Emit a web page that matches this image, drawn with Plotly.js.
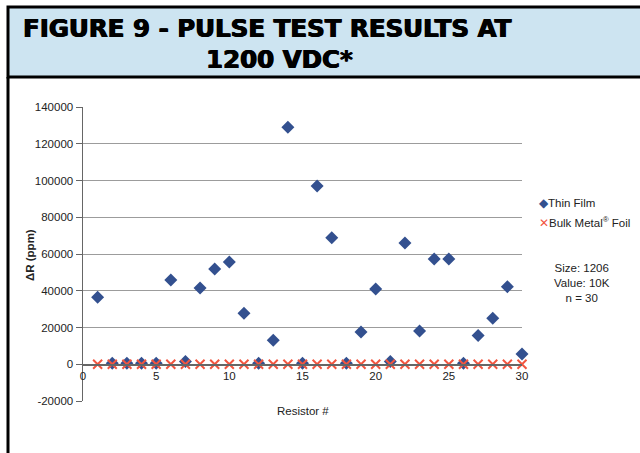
<!DOCTYPE html>
<html>
<head>
<meta charset="utf-8">
<script src="https://cdn.plot.ly/plotly-3.0.1.min.js"></script>
<style>html,body{margin:0;padding:0;background:#fff;}#chart{width:640px;height:453px;}</style>
</head>
<body>
<div id="chart"></div>
<script>
// Data
const resistorNo = [1,2,3,4,5,6,7,8,9,10,11,12,13,14,15,16,17,18,19,20,21,22,23,24,25,26,27,28,29,30];
const thinFilm = [36500,500,500,500,500,45800,1500,41500,51800,55700,27800,500,13000,129000,500,97000,68800,500,17500,40900,1500,66000,18100,57300,57300,500,15700,25000,42200,5600];
const bulkMetalFoil = [0,0,0,0,0,0,0,0,0,0,0,0,0,0,0,0,0,0,0,0,0,0,0,0,0,0,0,0,0,0];
const yTicks = [-20000,0,20000,40000,60000,80000,100000,120000,140000];
const xTicks = [0,5,10,15,20,25,30];

const M = {l:83, r:118, t:107, b:52};
const PW = 640 - M.l - M.r, PH = 453 - M.t - M.b;
const px = v => (v - M.l) / PW;
const py = v => (453 - M.b - v) / PH;

const fontTxt = "Liberation Sans, Arial, Helvetica, sans-serif";

const traces = [
  {x: resistorNo, y: thinFilm, type: 'scatter', mode: 'markers', name: 'Thin Film', cliponaxis: false,
   marker: {symbol: 'diamond', size: 10, color: '#33508f', line: {width: 0}}},
  {x: resistorNo, y: bulkMetalFoil, type: 'scatter', mode: 'markers', name: 'Bulk Metal® Foil', cliponaxis: false,
   marker: {symbol: 'x-thin-open', size: 9, color: '#f2553f', line: {width: 2, color: '#f2553f'}}}
];

const layout = {
  width: 640, height: 453,
  margin: M,
  paper_bgcolor: '#ffffff', plot_bgcolor: '#ffffff',
  showlegend: false,
  font: {family: fontTxt, size: 11.5, color: '#222'},
  xaxis: {range: [0, 30], tickvals: xTicks, ticktext: xTicks.map(String),
    anchor: 'free', position: 0.125, showgrid: false, zeroline: false,
    showline: true, linecolor: '#666', linewidth: 1.5, ticks: '',
    tickfont: {size: 11.5, color: '#222'}},
  yaxis: {range: [-20000, 140000], tickvals: yTicks, ticktext: yTicks.map(String),
    showgrid: true, gridcolor: '#9c9c9c', gridwidth: 1,
    zeroline: true, zerolinecolor: '#666', zerolinewidth: 1.5,
    showline: true, linecolor: '#666', linewidth: 1.5,
    ticks: 'outside', ticklen: 6, tickcolor: '#666', tickwidth: 1,
    tickfont: {size: 11.5, color: '#222'}},
  shapes: [
    {type: 'rect', xref: 'paper', yref: 'paper', x0: px(8), x1: px(645), y0: py(77), y1: py(7),
     fillcolor: '#cde4f1', line: {color: '#000', width: 3}, layer: 'below'},
    {type: 'line', xref: 'paper', yref: 'paper', x0: px(8), x1: px(8), y0: py(77), y1: py(460),
     line: {color: '#000', width: 3}}
  ],
  annotations: [
    {xref: 'paper', yref: 'paper', x: px(21), y: py(29), xanchor: 'left', yanchor: 'middle', showarrow: false,
     text: '<b>FIGURE 9 - PULSE TEST RESULTS AT</b>',
     font: {family: 'DejaVu Sans, sans-serif', size: 24.5, color: '#000', shadow: '0.6px 0 0 #000, -0.6px 0 0 #000'}},
    {xref: 'paper', yref: 'paper', x: px(204), y: py(59), xanchor: 'left', yanchor: 'middle', showarrow: false,
     text: '<b>1200 VDC*</b>',
     font: {family: 'DejaVu Sans, sans-serif', size: 24.5, color: '#000', shadow: '0.6px 0 0 #000, -0.6px 0 0 #000'}},
    {xref: 'paper', yref: 'paper', x: px(30), y: py(255), xanchor: 'center', yanchor: 'middle', showarrow: false,
     textangle: -90, text: '<b>ΔR (ppm)</b>', font: {size: 11.5, color: '#222'}},
    {xref: 'paper', yref: 'paper', x: 0.5, y: py(411), xanchor: 'center', yanchor: 'middle', showarrow: false,
     text: 'Resistor #', font: {size: 11.5, color: '#222'}},
    {xref: 'paper', yref: 'paper', x: px(537), y: py(203), xanchor: 'left', yanchor: 'middle', showarrow: false,
     text: '<span style="color:#33508f">◆</span>Thin Film', font: {size: 11.5, color: '#222'}},
    {xref: 'paper', yref: 'paper', x: px(537), y: py(222), xanchor: 'left', yanchor: 'middle', showarrow: false,
     text: '<span style="color:#f2553f">✕</span>Bulk Metal<sup>®</sup> Foil', font: {size: 11.5, color: '#222'}},
    {xref: 'paper', yref: 'paper', x: px(582), y: py(283), xanchor: 'center', yanchor: 'middle', showarrow: false,
     align: 'center', text: 'Size: 1206<br>Value: 10K<br>n = 30', font: {size: 11.5, color: '#222'}}
  ]
};

Plotly.newPlot('chart', traces, layout, {displayModeBar: false, staticPlot: true});
</script>
</body>
</html>
